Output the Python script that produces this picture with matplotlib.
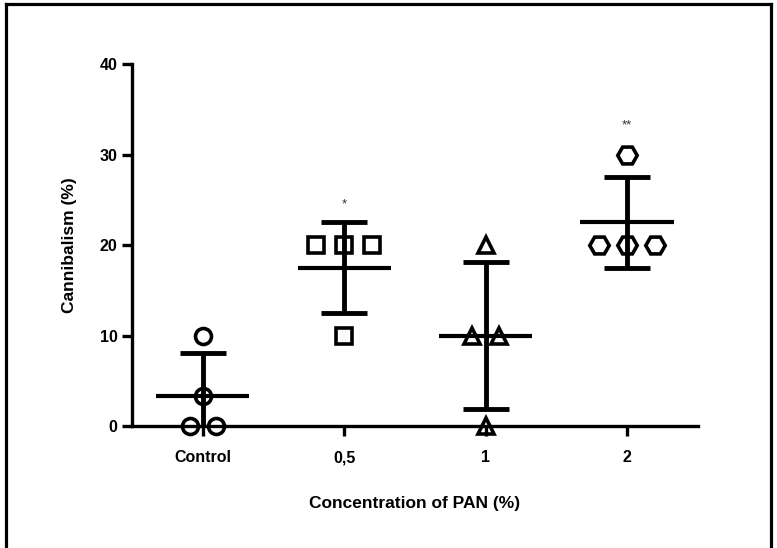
import numpy as np
import matplotlib
matplotlib.use("Agg")
from matplotlib import pyplot as plt
from matplotlib.lines import Line2D

plt.rcParams['font.family'] = ['Liberation Sans', 'DejaVu Sans']

groups = ['Control', '0,5', '1', '2']
control_vals = [0, 0, 3.33, 10]
pan05_vals = [20, 20, 20, 10]
pan1_vals = [20, 10, 10, 0]
pan2_vals = [30, 20, 20, 20]
means = [3.33, 17.5, 10.0, 22.5]
sds = [4.71, 5.0, 8.16, 5.0]
stars = ['', '*', '', '**']
star_y = [0, 24.5, 0, 33.2]

all_vals = [control_vals, pan05_vals, pan1_vals, pan2_vals]
# horizontal spread of the points inside each column
spread = [[-0.094, 0.094, 0.0, 0.0],
          [-0.2, 0.0, 0.2, 0.0],
          [0.0, -0.096, 0.096, 0.0],
          [0.0, -0.2, 0.0, 0.2]]
markers = ['o', 's', '^', 'H']
msizes = [11.5, 11.5, 12, 14]

fig = plt.figure(figsize=(7.77, 5.48), dpi=100)
ax = fig.add_axes([0.170, 0.2226, 0.728, 0.6606])

x = np.arange(len(groups))
for i in range(len(groups)):
    xs = x[i] + np.array(spread[i])
    ax.plot(xs, all_vals[i], ls='none', marker=markers[i], ms=msizes[i],
            mfc='none', mec='black', mew=2.6, clip_on=False, zorder=2)
    ax.hlines(means[i], x[i] - 0.33, x[i] + 0.33, color='black', lw=3, zorder=3)
    ax.errorbar(x[i], means[i], yerr=sds[i], fmt='none', ecolor='black',
                elinewidth=3.5, capsize=16.5, capthick=3.5, zorder=3)
    if stars[i]:
        ax.text(x[i], star_y[i], stars[i], ha='center', va='center',
                fontsize=9.5, color='#333333')

ax.set_xlim(-0.5, 3.5)
ax.set_ylim(0, 40)
ax.set_yticks([0, 10, 20, 30, 40])
ax.set_xticks(x)
ax.set_xticklabels(groups)
ax.spines['top'].set_visible(False)
ax.spines['right'].set_visible(False)
ax.spines['left'].set_linewidth(2.4)
ax.spines['bottom'].set_linewidth(2.4)
ax.tick_params(axis='both', length=7.5, width=2.4, labelsize=11.5)
ax.tick_params(axis='y', pad=3)
ax.tick_params(axis='x', pad=10)
for lab in ax.get_xticklabels() + ax.get_yticklabels():
    lab.set_fontweight('bold')

ax.set_xlabel('Concentration of PAN (%)', fontsize=12.5, fontweight='bold', labelpad=22)
ax.set_ylabel('Cannibalism (%)', fontsize=12.5, fontweight='bold', labelpad=16)

# frame around the picture
fig.add_artist(Line2D([0.0073, 0.0073], [0, 0.992], color='black', lw=2.3,
                      transform=fig.transFigure))
fig.add_artist(Line2D([0.0073, 0.992], [0.992, 0.992], color='black', lw=2.3,
                      transform=fig.transFigure))
fig.add_artist(Line2D([0.992, 0.992], [0, 0.992], color='black', lw=2.3,
                      transform=fig.transFigure))

fig.savefig('out.png', dpi=100)
